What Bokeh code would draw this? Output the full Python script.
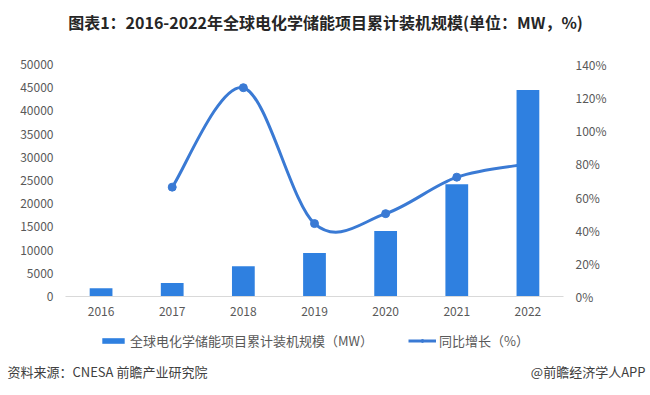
import numpy as np
from bokeh.plotting import figure
from bokeh.layouts import column
from bokeh.models import (Range1d, LinearAxis, FixedTicker, NumeralTickFormatter,
                          Legend, LegendItem, FactorRange)
from bokeh.core.properties import value
from bokeh.embed import file_html
from bokeh.resources import INLINE

years = ["2016", "2017", "2018", "2019", "2020", "2021", "2022"]
capacity_mw = [1800, 2900, 6500, 9400, 14100, 24200, 44500]
growth_years = ["2017", "2018", "2019", "2020", "2021", "2022"]
growth_pct = [0.66, 1.26, 0.44, 0.50, 0.72, 0.80]
left_ticks = [0, 5000, 10000, 15000, 20000, 25000, 30000, 35000, 40000, 45000, 50000]
right_ticks = [0, 0.2, 0.4, 0.6, 0.8, 1.0, 1.2, 1.4]

title_text = "图表1：2016-2022年全球电化学储能项目累计装机规模(单位：MW，%)"
bar_name = "全球电化学储能项目累计装机规模（MW）"
line_name = "同比增长（%）"
source_text = "资料来源：CNESA 前瞻产业研究院"
brand_text = "@前瞻经济学人APP"

BAR = "#2f80e0"
LINE = "#3a7ad4"
TXT = "#595959"
FONT = "Noto Sans CJK SC"
W = 650


def blank(height):
    f = figure(width=W, height=height, x_range=Range1d(0, W), y_range=Range1d(0, height),
               output_backend="svg", toolbar_location=None,
               x_axis_location=None, y_axis_location=None,
               min_border=0, min_border_left=0, min_border_right=0,
               min_border_top=0, min_border_bottom=0, frame_align=False)
    f.outline_line_color = None
    f.grid.visible = False
    return f


# ---- title
TH = 44
tf = blank(TH)
tf.text(x=[325], y=[TH - 21], text=[title_text], text_font=value(FONT),
        text_font_style="bold", text_font_size="16px", text_color="#262626",
        text_align="center", text_baseline="middle")

# ---- main chart
p = figure(width=W, height=281, x_range=FactorRange(*years, range_padding=0),
           y_range=Range1d(0, 50000), output_backend="svg", toolbar_location=None,
           min_border_left=65, min_border_right=87, min_border_top=20, min_border_bottom=29,
           frame_align=False)
p.extra_y_ranges = {"pct": Range1d(0, 1.4)}
p.outline_line_color = None
p.grid.visible = False

idx = {y: i for i, y in enumerate(years)}
xs = np.array([idx[y] + 0.5 for y in growth_years])
ys = np.array(growth_pct)
n = len(xs)
x0s, y0s, x1s, y1s, cx0, cy0, cx1, cy1 = [], [], [], [], [], [], [], []
for i in range(n - 1):
    pm = i - 1 if i > 0 else i
    pp = i + 2 if i + 2 < n else i + 1
    x0s.append(xs[i]); y0s.append(ys[i]); x1s.append(xs[i + 1]); y1s.append(ys[i + 1])
    cx0.append(xs[i] + (xs[i + 1] - xs[pm]) / 6); cy0.append(ys[i] + (ys[i + 1] - ys[pm]) / 6)
    cx1.append(xs[i + 1] - (xs[pp] - xs[i]) / 6); cy1.append(ys[i + 1] - (ys[pp] - ys[i]) / 6)
p.bezier(x0=x0s, y0=y0s, x1=x1s, y1=y1s, cx0=cx0, cy0=cy0, cx1=cx1, cy1=cy1,
         line_color=LINE, line_width=3, y_range_name="pct")
p.scatter(x=list(xs), y=list(ys), size=8, fill_color=LINE, line_color=LINE,
          y_range_name="pct")
p.vbar(x=years, top=capacity_mw, width=0.32, fill_color=BAR, line_color=None)

la = p.yaxis[0]
la.ticker = FixedTicker(ticks=left_ticks)
ra = LinearAxis(y_range_name="pct", ticker=FixedTicker(ticks=right_ticks),
                formatter=NumeralTickFormatter(format="0%"))
p.add_layout(ra, "right")
for ax in (la, ra):
    ax.axis_line_color = None
    ax.major_label_standoff = 12
xa = p.xaxis[0]
xa.axis_line_color = "#d9d9d9"
xa.major_label_standoff = 10
for ax in (la, ra, xa):
    ax.major_tick_line_color = None
    ax.minor_tick_line_color = None
    ax.major_tick_out = 0
    ax.major_tick_in = 0
    ax.minor_tick_out = 0
    ax.major_label_text_color = TXT
    ax.major_label_text_font = FONT
    ax.major_label_text_font_size = "12px"

# ---- legend + footer
BH = 70
bf = blank(BH)
r_bar = bf.vbar(x=[0], top=[1], width=1, fill_color=BAR, line_color=None, visible=False)
r_line = bf.line(x=[0, 1], y=[0, 0], line_color=LINE, line_width=3, visible=False)
r_pt = bf.scatter(x=[0], y=[0], size=6, fill_color=LINE, line_color=LINE, visible=False)
legend = Legend(items=[LegendItem(label=bar_name, renderers=[r_bar]),
                       LegendItem(label=line_name, renderers=[r_line, r_pt])],
                orientation="horizontal", location=(99, 45),
                glyph_width=28, glyph_height=7, label_standoff=3, spacing=35,
                label_text_font=FONT, label_text_font_size="13px", label_text_color=TXT,
                label_height=16, background_fill_alpha=0, border_line_color=None,
                padding=0, margin=0)
bf.add_layout(legend, "center")
bf.text(x=[7], y=[24], text=[source_text], text_font=value(FONT), text_font_size="13px",
        text_color="#404040", text_baseline="middle")
bf.text(x=[645], y=[24], text=[brand_text], text_font=value(FONT), text_font_size="13px",
        text_color="#404040", text_align="right", text_baseline="middle")

layout = column(tf, p, bf, spacing=0)
open("out.html", "w").write(file_html(layout, INLINE))
